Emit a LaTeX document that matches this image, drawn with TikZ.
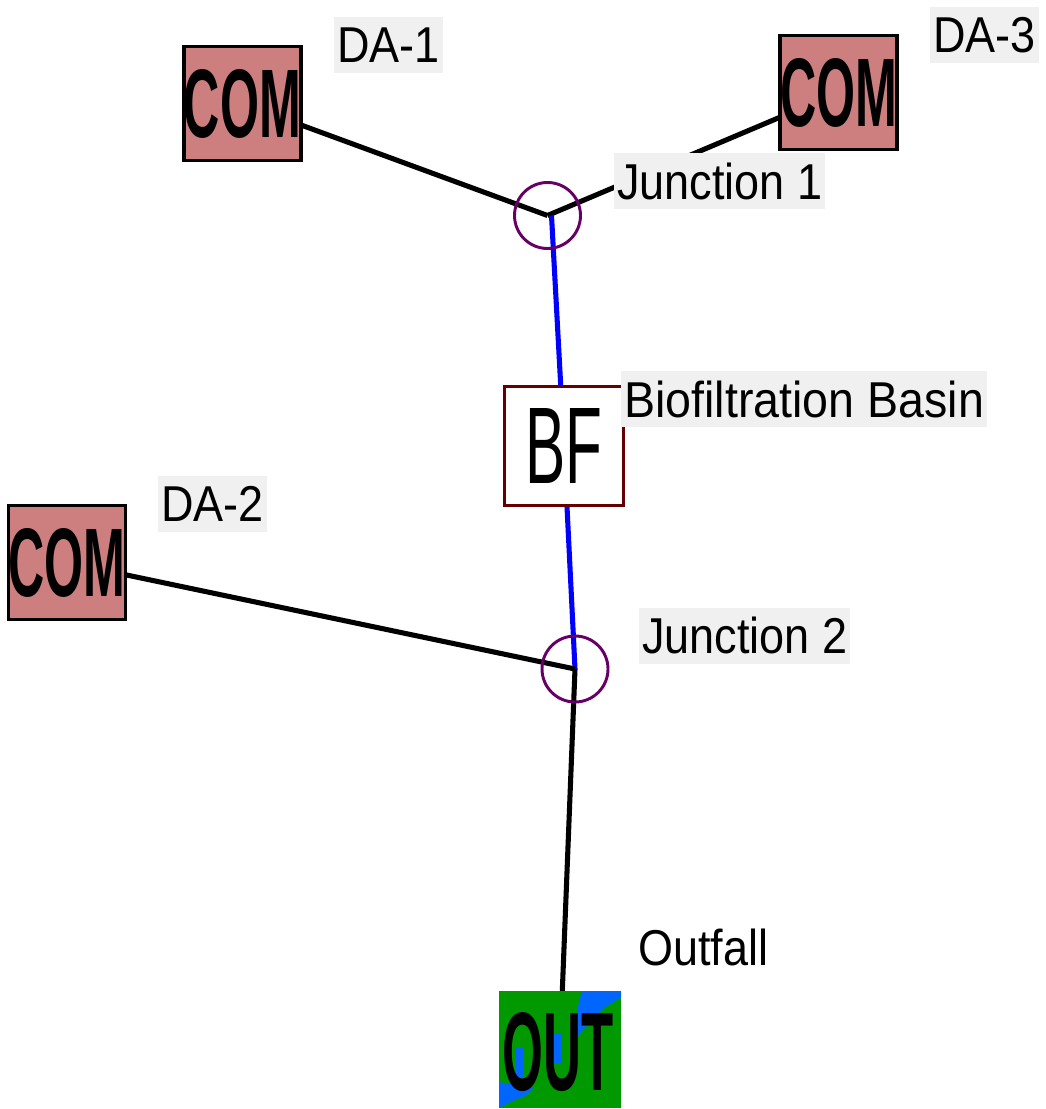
\documentclass[tikz,border=0pt]{standalone}
\usepackage{fontspec}
\setmainfont{Liberation Sans}
\usetikzlibrary{backgrounds}
\definecolor{comfill}{HTML}{CD7F7F}
\definecolor{labgray}{HTML}{F0F0F0}
\definecolor{jpurple}{HTML}{660066}
\definecolor{bfred}{HTML}{660000}
\definecolor{outgreen}{HTML}{009900}
\definecolor{outblue}{HTML}{0066FF}
\definecolor{pipeblue}{HTML}{0000FF}
\tikzset{
  combox/.style={draw=black, line width=2.8pt, fill=comfill, minimum width=114*0.75pt, minimum height=114*0.75pt, inner sep=0pt},
  junc/.style={circle, draw=jpurple, line width=2.2pt, minimum size=66*0.75pt, inner sep=0pt},
  lab/.style={fill=labgray, anchor=west, inner xsep=3*0.75pt, inner ysep=0pt, minimum height=56*0.75pt, font=\fontsize{33.75}{40}\selectfont},
  blk/.style={draw=black, line width=3.8pt},
  bluepipe/.style={draw=pipeblue, line width=3.8pt},
}
\newcommand{\comtext}{\resizebox{87.75pt}{51pt}{\bfseries COM}}
\newcommand{\labtxt}[1]{\scalebox{1}[1.12]{#1}}
\begin{document}
\begin{tikzpicture}[x=0.75pt,y=-0.75pt]
\useasboundingbox (0,0) rectangle (1045,1109);
% COM boxes
\node[combox] (da1) at (242.5,103.5) {\comtext};
\node[combox] (da3) at (838.5,92.5) {\comtext};
\node[combox] (da2) at (67,562.5) {\comtext};
% BF
\node[draw=bfred, line width=2.8pt, fill=white, minimum width=119*0.75pt, minimum height=119*0.75pt, inner sep=0pt] (bf) at (564,446) {\resizebox{57.75pt}{56.25pt}{BF}};
% OUT
\node[fill=outgreen, minimum width=122*0.75pt, minimum height=117*0.75pt, inner sep=0pt] (out) at (560,1049.5) {};
\fill[outblue] (581.7,991) -- (621,991) -- (621,997.3) -- (605,1007.3) -- (580,1033) -- (576,1040) -- (577.3,1009.3) -- cycle;
\fill[outblue] (499,1082) -- (533,1088) -- (527,1095) -- (510,1102) -- (499,1108) -- cycle;
\fill[outblue] (553,1033) rectangle (562,1063);
\fill[outblue] (515,1048) rectangle (523,1077);
\node[inner sep=0pt] (outtext) at (558.5,1052) {\resizebox{83.25pt}{58.5pt}{\bfseries OUT}};
% junctions
\node[junc] (j1) at (547.5,215.5) {};
\node[junc] (j2) at (575,669) {};
% labels
\node[lab] (l1) at (334,45) {\labtxt{DA-1}};
\node[lab] (l3) at (930,35) {\labtxt{DA-3}};
\node[lab] (l2) at (158,504) {\labtxt{DA-2}};
\node[lab] (lj1) at (614,181) {\labtxt{Junction 1}};
\node[lab] (lbf) at (621,399) {\scalebox{1.035}[1.12]{Biofiltration Basin}};
\node[lab] (lj2) at (639,635.5) {\labtxt{Junction 2}};
\node[lab, fill=none] (lout) at (635,947) {\labtxt{Outfall}};
% connectors
\begin{pgfonlayer}{background}
\draw[blk] (da1.center) -- (j1.center);
\draw[blk] (j1.center) -- (da3.center);
\draw[bluepipe] ([xshift=3pt]j1.center) -- (bf.center);
\draw[bluepipe] (bf.center) -- (j2.center);
\draw[blk] (da2.center) -- (j2.center);
\draw[blk] (j2.center) -- (out.center);
\end{pgfonlayer}
\end{tikzpicture}
\end{document}
